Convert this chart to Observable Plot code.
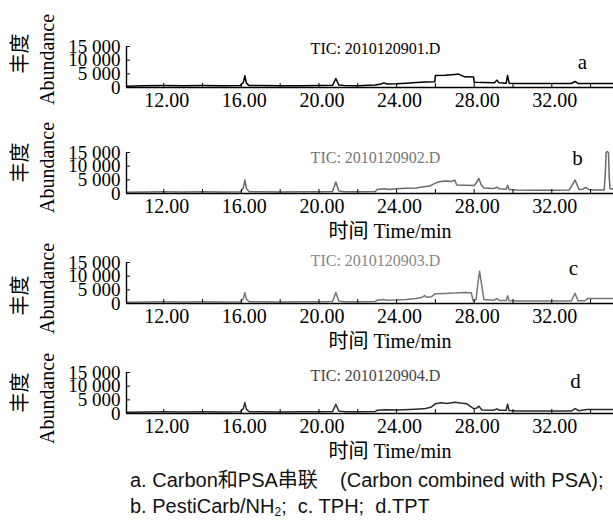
<!DOCTYPE html>
<html><head><meta charset="utf-8">
<script src="https://cdn.jsdelivr.net/npm/d3@7"></script>
<script src="https://cdn.jsdelivr.net/npm/@observablehq/plot@0.6"></script>
<style>
body{margin:0;background:#fff;}
#wrap{position:relative;width:613px;height:527px;overflow:hidden;background:#fff;}
#wrap svg{position:absolute;left:0;}
#cap{position:absolute;left:130px;top:467px;font-family:"Liberation Sans",Arial,"Noto Sans CJK SC",sans-serif;font-size:20px;line-height:26px;color:#111;white-space:nowrap;}
#cap sub{font-size:12px;vertical-align:-3px;line-height:0;}
</style></head><body>
<div id="wrap"><div id="cap">a. Carbon和PSA串联&nbsp;&nbsp;&nbsp; (Carbon combined with PSA);<br>b. PestiCarb/NH<sub>2</sub>;&nbsp; c. TPH;&nbsp; d.TPT</div></div>
<script>
// ---- data ----
const xDomain = [10.08, 35.18];
const yTicks = [0, 5000, 10000, 15000];
const xTicks = [12, 14, 16, 18, 20, 22, 24, 26, 28, 30, 32, 34];
const xLabelTicks = [12, 16, 20, 24, 28, 32];
const panelLetters = ["a", "b", "c", "d"];
const ticLabels = ["TIC: 2010120901.D", "TIC: 2010120902.D", "TIC: 2010120903.D", "TIC: 2010120904.D"];
const xTitle = "时间 Time/min";
const yTitleCn = "丰度";
const yTitleEn = "Abundance";

const timesA = [10.08, 11, 12, 13, 14, 15, 15.95, 16.1, 16.18, 16.26, 16.4, 17, 18, 19, 20, 20.7, 20.87, 21.02, 21.3, 22, 22.9, 23.2, 23.35, 23.5, 24, 24.5, 25, 25.5, 25.97, 26.0, 26.5, 27.0, 27.2, 27.5, 27.97, 28.0, 28.5, 29.05, 29.17, 29.28, 29.65, 29.72, 29.8, 30.2, 31, 32, 33.0, 33.2, 33.35, 34, 35.18];
const abundA = [500, 600, 700, 650, 700, 650, 700, 1800, 4300, 1600, 700, 700, 650, 650, 700, 800, 3300, 900, 700, 600, 900, 1300, 1700, 1300, 1400, 1600, 1800, 2000, 2100, 4400, 4500, 4800, 4900, 3900, 3800, 1900, 1800, 1700, 2700, 1700, 1600, 4400, 1600, 1500, 1500, 1450, 1450, 2200, 1500, 1500, 1500];

const timesB = [10.08, 11, 12, 13, 14, 15, 15.95, 16.1, 16.18, 16.26, 16.4, 17, 18, 19, 20, 20.7, 20.87, 21.02, 21.3, 22, 22.9, 23.0, 23.4, 23.6, 24, 24.5, 25, 25.3, 25.7, 26.0, 26.2, 26.5, 26.8, 27.0, 27.1, 27.5, 28.0, 28.12, 28.24, 28.36, 28.5, 29.0, 29.17, 29.3, 29.65, 29.72, 29.8, 30.2, 31, 32, 32.9, 33.2, 33.4, 33.6, 33.75, 33.9, 34.2, 34.7, 34.77, 34.8, 34.86, 34.92, 34.96, 35.0, 35.18];
const abundB = [500, 550, 600, 550, 600, 550, 600, 2000, 4900, 1800, 650, 600, 550, 600, 600, 700, 4200, 900, 650, 600, 700, 1500, 1700, 1500, 1700, 1900, 2000, 2400, 2700, 3800, 4300, 4600, 4400, 4900, 3100, 3000, 2900, 4000, 5500, 3200, 2000, 1800, 2300, 1700, 1600, 3000, 1500, 1300, 1200, 1200, 1300, 4900, 1500, 1600, 2200, 1500, 1300, 1300, 9000, 15000, 15300, 15000, 6000, 1800, 1500];

const timesC = [10.08, 11, 12, 13, 14, 15, 15.95, 16.1, 16.18, 16.26, 16.4, 17, 18, 19, 20, 20.7, 20.87, 21.02, 21.3, 22, 22.9, 23.0, 23.3, 23.5, 24, 24.5, 25, 25.3, 25.45, 25.55, 25.8, 26.0, 26.5, 27.0, 27.5, 27.85, 27.95, 28.1, 28.2, 28.28, 28.36, 28.5, 29.0, 29.17, 29.3, 29.65, 29.72, 29.8, 30.2, 31, 32, 33.0, 33.2, 33.35, 33.7, 33.85, 34.5, 35.18];
const abundC = [500, 550, 600, 550, 600, 550, 600, 1800, 4000, 1600, 650, 600, 550, 600, 600, 700, 4000, 900, 650, 600, 700, 1200, 1500, 1200, 1300, 1500, 1800, 2200, 2900, 2300, 2500, 3600, 3700, 3800, 4000, 3900, 900, 1500, 8000, 11800, 8000, 1500, 1200, 1800, 1100, 1100, 2800, 1000, 900, 900, 900, 900, 3700, 1000, 1000, 1800, 1800, 1800];

const timesD = [10.08, 11, 12, 13, 14, 15, 15.95, 16.1, 16.18, 16.26, 16.4, 17, 18, 19, 20, 20.7, 20.87, 21.02, 21.3, 22, 22.9, 23.0, 23.4, 24, 25, 25.5, 25.8, 26.0, 26.3, 26.6, 27.0, 27.3, 27.6, 27.97, 28.1, 28.24, 28.4, 29.0, 29.17, 29.3, 29.65, 29.72, 29.8, 30.2, 31, 32, 33.0, 33.2, 33.4, 33.8, 34.5, 35.18];
const abundD = [500, 550, 600, 550, 600, 550, 600, 1800, 4000, 1600, 650, 600, 550, 600, 600, 700, 3400, 900, 650, 600, 700, 1200, 1400, 1300, 1600, 1800, 2400, 3600, 3900, 3700, 4100, 3800, 3600, 1800, 1900, 2700, 1300, 1200, 1700, 1200, 1200, 3400, 1100, 900, 900, 900, 900, 1800, 1000, 1500, 1500, 1500];

const seriesTimes = [timesA, timesB, timesC, timesD];
const seriesAbund = [abundA, abundB, abundC, abundD];

// ---- styling ----
const lineColors = ["#000000", "#6a6a6a", "#767676", "#2a2a2a"];
const ticColors = ["#000000", "#777777", "#888888", "#444444"];
const svgTops = [0, 106, 216, 326];
const ticDy = [2, 5, -2, 3];
const letterPos = [[-31, 16], [-36, 6], [-40, 6], [-38, 9]];
const enDy = [-7.5, -5.5, 5.5, 5.5];
const cnDy = [-13.5, -10.5, 12.5, -0.5];

const fmt = d => d === 0 ? "0" : d3.format(",")(d).replace(/,/g, " ");
const W = 613, ML = 126, MT = 46, MB = 43, IH = 41;
const IW = W - ML;

const wrap = document.getElementById("wrap");
for (let p = 0; p < 4; p++) {
  const data = seriesTimes[p].map((t, i) => ({t, v: seriesAbund[p][i]}));
  const marks = [
    Plot.line(data, {x: "t", y: "v", stroke: lineColors[p], strokeWidth: 1.5}),
    Plot.ruleY([0], {stroke: "#000", strokeWidth: 1.4}),
    Plot.ruleX([xDomain[0]], {y1: yTicks[0], y2: yTicks[yTicks.length - 1], stroke: "#000", strokeWidth: 1.4}),
    Plot.tickX(xTicks, {x: d => d, insetTop: IH - 4, stroke: "#000"}),
    Plot.tickY(yTicks.slice(1), {y: d => d, insetRight: IW - 4, stroke: "#000"}),
    Plot.axisX(xLabelTicks, {tickSize: 0, tickPadding: 5, dx: 3, tickFormat: d => d.toFixed(2), label: null, fontSize: 20, fill: "#000"}),
    Plot.axisY(yTicks, {tickSize: 0, tickPadding: 6, tickFormat: fmt, label: null, fontSize: 19, fill: "#000"}),
    Plot.text([ticLabels[p]], {text: d => d, frameAnchor: "top", textAnchor: "middle", lineAnchor: "middle", dx: 5.5, dy: ticDy[p], fontSize: 16, fill: ticColors[p]}),
    Plot.text([panelLetters[p]], {text: d => d, frameAnchor: "top-right", textAnchor: "middle", lineAnchor: "middle", dx: letterPos[p][0], dy: letterPos[p][1], fontSize: 21, fill: "#000"}),
    Plot.text([yTitleEn], {text: d => d, frameAnchor: "left", rotate: -90, textAnchor: "middle", lineAnchor: "middle", dx: -79, dy: enDy[p], fontSize: 20, fill: "#000"}),
    Plot.text([yTitleCn], {text: d => d, frameAnchor: "left", rotate: -90, textAnchor: "middle", lineAnchor: "middle", dx: -106, dy: cnDy[p], fontSize: 20, fill: "#000"})
  ];
  if (p > 0) {
    marks.push(Plot.text([xTitle], {text: d => d, frameAnchor: "bottom", textAnchor: "middle", lineAnchor: "middle", dx: 20, dy: 38, fontSize: 20, fill: "#000"}));
  }
  const svg = Plot.plot({
    width: W, height: MT + IH + MB,
    marginLeft: ML, marginRight: 0, marginTop: MT, marginBottom: MB,
    style: {background: "transparent", overflow: "visible", fontFamily: "'Liberation Serif','Noto Sans CJK SC',serif", fontSize: "20px", color: "#000"},
    x: {domain: xDomain},
    y: {domain: [0, 15000]},
    marks
  });
  svg.style.position = "absolute";
  svg.style.top = svgTops[p] + "px";
  svg.style.left = "0px";
  wrap.appendChild(svg);
}
</script>
</body></html>
